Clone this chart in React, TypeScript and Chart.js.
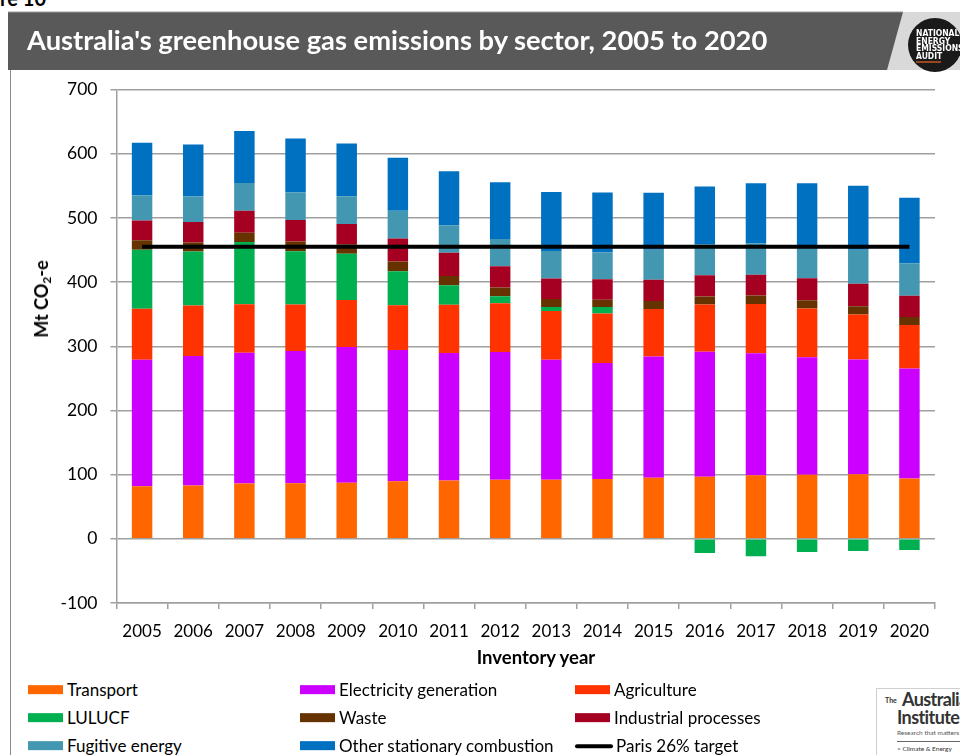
import React, { useEffect, useRef } from "react";
import { Chart, registerables } from "chart.js";

Chart.register(...registerables);

const years = ["2005", "2006", "2007", "2008", "2009", "2010", "2011", "2012", "2013", "2014", "2015", "2016", "2017", "2018", "2019", "2020"];

const transport = [82, 83, 86, 86.5, 87.5, 89.5, 91, 92, 92, 93, 95, 96.5, 99, 100, 100.5, 94];
const electricity = [197, 202, 204, 206, 211.5, 204.5, 198.5, 199, 187, 181, 189, 195, 190, 183, 179, 171.5];
const agriculture = [79.5, 78.5, 75.5, 72.5, 73, 70, 75, 76, 76, 77, 74, 73.5, 77, 76, 70, 67.5];
const lulucf = [92, 84, 97, 83, 72, 53, 30.5, 11, 6, 10, 0, -22, -27, -20.5, -19, -17.5];
const waste = [14.5, 14, 14.5, 15, 15, 15, 14.5, 13.5, 12.5, 11.5, 12.5, 12.5, 13, 12.5, 13, 12.5];
const industrial = [31, 32, 34, 33.5, 31.5, 36, 36, 33, 32, 32, 33, 33, 32.5, 34.5, 35, 33];
const fugitive = [39, 40, 43.5, 43, 43, 43, 43, 42.5, 43, 41.5, 47, 48, 49, 49, 53, 50.5];
const otherStationary = [82, 81, 81, 84, 82.5, 82.5, 84, 88.5, 92, 93.5, 88.5, 90.5, 93.5, 99, 99.5, 102.5];
const parisTarget = [455, 455, 455, 455, 455, 455, 455, 455, 455, 455, 455, 455, 455, 455, 455, 455];

const yMin = -100;
const yMax = 700;
const yStep = 100;

const sectorNames = ["Transport", "Electricity generation", "Agriculture", "LULUCF", "Waste", "Industrial processes", "Fugitive energy", "Other stationary combustion"];
const sectorColors = ["#FF6600", "#CC00FF", "#FF3300", "#00B050", "#663300", "#A50021", "#4397B1", "#0070C0"];
const sectorValues = [transport, electricity, agriculture, lulucf, waste, industrial, fugitive, otherStationary];
const parisName = "Paris 26% target";

const FONT = "Lato, 'Open Sans', sans-serif";

function EmissionsChart() {
  const ref = useRef<HTMLCanvasElement | null>(null);
  useEffect(() => {
    if (!ref.current) return;
    const barSets = sectorNames.map((name, i) => ({
      type: "bar" as const,
      label: name,
      data: sectorValues[i],
      backgroundColor: sectorColors[i],
      borderWidth: 0,
      stack: "sectors",
      order: 2,
      barPercentage: 0.4,
      categoryPercentage: 1,
    }));
    const chart = new Chart(ref.current, {
      type: "bar",
      data: {
        labels: years,
        datasets: [
          ...barSets,
          {
            type: "line" as const,
            label: parisName,
            data: parisTarget,
            borderColor: "#000000",
            backgroundColor: "#000000",
            borderWidth: 4,
            pointRadius: 0,
            fill: false,
            stack: "paris",
            order: 0,
          } as any,
        ],
      },
      options: {
        responsive: false,
        animation: false,
        layout: { padding: { left: 0, right: 25, top: 10, bottom: 27 } },
        plugins: { legend: { display: false }, tooltip: { enabled: false }, title: { display: false } },
        scales: {
          x: {
            stacked: true,
            offset: true,
            grid: { display: true, drawOnChartArea: false, drawTicks: true, tickLength: 6, color: "#a0a0a0", lineWidth: 1.5, offset: true },
            border: { display: true, color: "#a0a0a0", width: 1.5 },
            ticks: { color: "#000", font: { family: FONT, size: 17 }, padding: 12, maxRotation: 0, autoSkip: false },
            afterFit: (s: any) => { s.height = 40; },
          },
          y: {
            stacked: true,
            min: yMin,
            max: yMax,
            ticks: { stepSize: yStep, color: "#000", font: { family: FONT, size: 17.5 }, padding: 13 },
            grid: { color: "#a0a0a0", lineWidth: 1.5, tickLength: 6, drawTicks: true },
            border: { display: true, color: "#a0a0a0", width: 1.5 },
            afterFit: (s: any) => { s.width = 116.5; },
          },
        },
      },
    });
    return () => chart.destroy();
  }, []);
  return <canvas ref={ref} width={960} height={604} style={{ width: 960, height: 604, display: "block" }} />;
}

function Swatch({ color, line }: { color: string; line?: boolean }) {
  if (line) {
    return <span style={{ display: "inline-block", width: 38, height: 4, background: color, borderRadius: 2, marginRight: 3, verticalAlign: "middle" }} />;
  }
  return <span style={{ display: "inline-block", width: 35, height: 9, background: color, marginRight: 4, verticalAlign: "middle" }} />;
}

export default function App() {
  const legendCols = [28, 300, 575];
  const legendRows = [689, 717, 745];
  const legendItems = [
    ...sectorNames.map((n, i) => ({ name: n, color: sectorColors[i], line: false })),
    { name: parisName, color: "#000000", line: true },
  ];
  return (
    <div style={{ position: "absolute", left: 0, top: 0, width: 960, height: 755, overflow: "hidden", background: "#fff", fontFamily: FONT }}>
      <div style={{ position: "absolute", right: 914, top: -12, fontWeight: 700, fontSize: 20, whiteSpace: "nowrap", color: "#000", lineHeight: "20px" }}>Figure 10</div>
      <div style={{ position: "absolute", left: 10, top: 70, width: 0, height: 700, borderLeft: "1px solid #8a8a8a" }} />
      <div style={{ position: "absolute", left: 0, top: 65.5 }}>
        <EmissionsChart />
      </div>
      <svg width={960} height={75} style={{ position: "absolute", left: 0, top: 0 }}>
        <rect x={8} y={12} width={900} height={58} fill="#595959" />
        <line x1={8} y1={12} x2={903} y2={12} stroke="#9a9a9a" strokeWidth={1} />
        <polygon points="903,12 960,12 960,70 887,70" fill="#D9D9D9" />
        <circle cx={935} cy={45} r={27} fill="#1a1a1a" />
        <text x={916} y={36} fill="#fff" fontFamily="'DejaVu Sans Condensed', 'DejaVu Sans', sans-serif" fontWeight={700} fontSize={8.5}>NATIONAL</text>
        <text x={916} y={43.5} fill="#fff" fontFamily="'DejaVu Sans Condensed', 'DejaVu Sans', sans-serif" fontWeight={700} fontSize={8.5}>ENERGY</text>
        <text x={916} y={51} fill="#fff" fontFamily="'DejaVu Sans Condensed', 'DejaVu Sans', sans-serif" fontWeight={700} fontSize={8.5}>EMISSIONS</text>
        <text x={916} y={58.5} fill="#fff" fontFamily="'DejaVu Sans Condensed', 'DejaVu Sans', sans-serif" fontWeight={700} fontSize={8.5}>AUDIT</text>
        <line x1={916} y1={62} x2={941} y2={62} stroke="#F26522" strokeWidth={1.2} />
        <text x={27} y={50} fill="#fff" fontFamily={FONT} fontWeight={700} fontSize={27.3}>Australia's greenhouse gas emissions by sector, 2005 to 2020</text>
      </svg>
      <div style={{ position: "absolute", left: 41, top: 299, transform: "translate(-50%, -50%) rotate(-90deg)", fontWeight: 700, fontSize: 18, whiteSpace: "nowrap", color: "#000" }}>
        Mt CO<sub style={{ fontSize: 12, verticalAlign: "-3px", lineHeight: 0 }}>2</sub>-e
      </div>
      <div style={{ position: "absolute", left: 536, top: 657, transform: "translate(-50%, -50%)", fontWeight: 700, fontSize: 18.5, whiteSpace: "nowrap", color: "#000" }}>
        Inventory year
      </div>
      {legendItems.map((it, i) => {
        const col = i % 3;
        const row = Math.floor(i / 3);
        return (
          <div key={it.name} style={{ position: "absolute", left: legendCols[col], top: legendRows[row], transform: "translateY(-50%)", fontSize: 17, whiteSpace: "nowrap", color: "#000", lineHeight: "20px" }}>
            <Swatch color={it.color} line={it.line} />
            <span style={{ verticalAlign: "middle" }}>{it.name}</span>
          </div>
        );
      })}
      <div style={{ position: "absolute", left: 876, top: 688, width: 100, height: 80, border: "1px solid #cfcfcf", boxSizing: "border-box", background: "#fff" }}>
        <div style={{ position: "absolute", left: 8, top: 7, fontSize: 7, color: "#333", fontWeight: 700 }}>The</div>
        <div style={{ position: "absolute", left: 25, top: 1, fontSize: 18, fontWeight: 700, color: "#333", lineHeight: "19px", letterSpacing: -0.6 }}>Australia</div>
        <div style={{ position: "absolute", left: 20, top: 19, fontSize: 18, fontWeight: 700, color: "#333", lineHeight: "19px", letterSpacing: -0.6 }}>Institute</div>
        <div style={{ position: "absolute", left: 20, top: 40, fontSize: 6.5, color: "#555", whiteSpace: "nowrap" }}>Research that matters</div>
        <div style={{ position: "absolute", left: 20, top: 52, width: 70, height: 0, borderTop: "1px solid #666" }} />
        <div style={{ position: "absolute", left: 20, top: 56, fontSize: 6.5, color: "#333", whiteSpace: "nowrap" }}>&gt; Climate &amp; Energy</div>
      </div>
    </div>
  );
}
